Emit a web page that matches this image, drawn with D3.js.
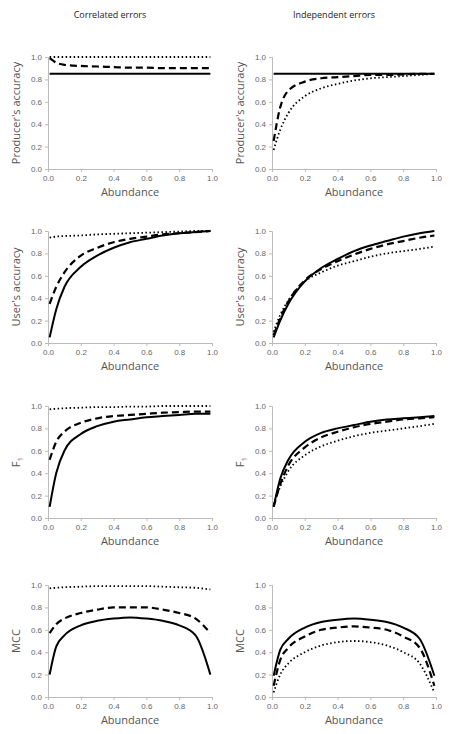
<!DOCTYPE html>
<html><head><meta charset="utf-8">
<script src="https://cdn.jsdelivr.net/npm/d3@7"></script>
<style>body{margin:0;background:#fff}</style>
</head><body>
<script>
// abundance sample points shared by every curve
var xs = [0.01, 0.05, 0.1, 0.2, 0.3, 0.4, 0.5, 0.6, 0.7, 0.8, 0.9, 0.99];
var ticks = [0, 0.2, 0.4, 0.6, 0.8, 1.0];
var colTitles = ["Correlated errors", "Independent errors"];
var rowLabels = ["Producer's accuracy", "User's accuracy", "F1", "MCC"];

// [solid, dashed, dotted] for each panel
var paCorr = [
  [0.85, 0.85, 0.85, 0.85, 0.85, 0.85, 0.85, 0.85, 0.85, 0.85, 0.85, 0.85],
  [0.99, 0.95, 0.93, 0.92, 0.915, 0.91, 0.905, 0.905, 0.9, 0.9, 0.9, 0.9],
  [1.0, 1.0, 1.0, 1.0, 1.0, 1.0, 1.0, 1.0, 1.0, 1.0, 1.0, 1.0]];
var paInd = [
  [0.85, 0.85, 0.85, 0.85, 0.85, 0.85, 0.85, 0.85, 0.85, 0.85, 0.85, 0.85],
  [0.25, 0.55, 0.7, 0.78, 0.81, 0.82, 0.83, 0.84, 0.84, 0.845, 0.85, 0.85],
  [0.17, 0.35, 0.5, 0.65, 0.72, 0.76, 0.79, 0.81, 0.82, 0.83, 0.84, 0.85]];
var uaCorr = [
  [0.05, 0.3, 0.5, 0.68, 0.78, 0.85, 0.9, 0.93, 0.96, 0.98, 0.99, 1.0],
  [0.35, 0.5, 0.63, 0.78, 0.85, 0.9, 0.93, 0.95, 0.97, 0.98, 0.99, 1.0],
  [0.94, 0.95, 0.955, 0.96, 0.97, 0.975, 0.98, 0.985, 0.99, 0.995, 1.0, 1.0]];
var uaInd = [
  [0.05, 0.2, 0.35, 0.55, 0.67, 0.75, 0.82, 0.87, 0.91, 0.95, 0.98, 1.0],
  [0.07, 0.22, 0.37, 0.56, 0.66, 0.73, 0.79, 0.84, 0.88, 0.91, 0.94, 0.96],
  [0.1, 0.25, 0.38, 0.55, 0.63, 0.69, 0.73, 0.77, 0.8, 0.82, 0.84, 0.86]];
var f1Corr = [
  [0.1, 0.4, 0.6, 0.75, 0.82, 0.86, 0.88, 0.9, 0.91, 0.92, 0.93, 0.93],
  [0.52, 0.68, 0.77, 0.85, 0.89, 0.91, 0.92, 0.93, 0.94, 0.945, 0.95, 0.95],
  [0.97, 0.975, 0.98, 0.985, 0.99, 0.99, 0.995, 0.995, 1.0, 1.0, 1.0, 1.0]];
var f1Ind = [
  [0.1, 0.35, 0.52, 0.68, 0.76, 0.8, 0.83, 0.86, 0.88, 0.89, 0.9, 0.91],
  [0.1, 0.3, 0.47, 0.63, 0.72, 0.77, 0.81, 0.84, 0.86, 0.88, 0.89, 0.9],
  [0.12, 0.28, 0.42, 0.56, 0.64, 0.69, 0.73, 0.76, 0.78, 0.8, 0.82, 0.84]];
var mccCorr = [
  [0.2, 0.45, 0.55, 0.64, 0.68, 0.7, 0.71, 0.7, 0.68, 0.64, 0.55, 0.2],
  [0.57, 0.65, 0.7, 0.75, 0.78, 0.8, 0.8, 0.8, 0.78, 0.75, 0.7, 0.57],
  [0.97, 0.975, 0.98, 0.985, 0.99, 0.99, 0.99, 0.99, 0.985, 0.98, 0.975, 0.96]];
var mccInd = [
  [0.19, 0.42, 0.52, 0.62, 0.67, 0.69, 0.7, 0.69, 0.67, 0.62, 0.52, 0.19],
  [0.1, 0.33, 0.44, 0.54, 0.6, 0.62, 0.63, 0.62, 0.6, 0.54, 0.44, 0.1],
  [0.04, 0.2, 0.3, 0.4, 0.46, 0.49, 0.5, 0.49, 0.46, 0.4, 0.3, 0.04]];

var panels = [[paCorr, paInd], [uaCorr, uaInd], [f1Corr, f1Ind], [mccCorr, mccInd]];

var W = 474, H = 734;
var svg = d3.select("body").append("svg").attr("width", W).attr("height", H)
  .style("font-family", "'Open Sans', sans-serif");

var colX = [48, 272], pw = 164, ph = 112;
var rowY = [57, 231, 406, 585];
var styles = [
  {w: 2, dash: null},
  {w: 2.2, dash: "7,4"},
  {w: 1.8, dash: "1.5,2.5"}];

colTitles.forEach(function(t, c) {
  svg.append("text").attr("x", colX[c] + pw / 2 - 20).attr("y", 18)
    .attr("text-anchor", "middle").attr("font-size", 9).attr("fill", "#222").text(t);
});

panels.forEach(function(row, r) {
  row.forEach(function(series, c) {
    var g = svg.append("g").attr("transform", "translate(" + colX[c] + "," + rowY[r] + ")");
    var x = d3.scaleLinear().domain([0, 1]).range([0, pw]);
    var y = d3.scaleLinear().domain([0, 1]).range([ph, 0]);
    var ax = g.append("g").attr("transform", "translate(0," + ph + ")")
      .call(d3.axisBottom(x).tickValues(ticks).tickSize(3).tickFormat(d3.format(".1f")));
    var ay = g.append("g")
      .call(d3.axisLeft(y).tickValues(ticks).tickSize(3).tickFormat(d3.format(".1f")));
    [ax, ay].forEach(function(a) {
      a.selectAll("path,line").attr("stroke", "#bbb");
      a.selectAll("text").attr("fill", "#666").attr("font-size", 8);
    });
    g.append("text").attr("x", pw / 2).attr("y", ph + 27).attr("text-anchor", "middle")
      .attr("font-size", 11).attr("fill", "#555").text("Abundance");
    var lab = g.append("text").attr("transform", "translate(-28," + ph / 2 + ") rotate(-90)")
      .attr("text-anchor", "middle").attr("font-size", 11).attr("fill", "#555");
    if (r === 2) {
      lab.append("tspan").text("F");
      lab.append("tspan").attr("font-size", 8).attr("dy", 3).text("1");
    } else lab.text(rowLabels[r]);

    var line = d3.line().curve(d3.curveMonotoneX)
      .x(function(d, i) { return x(xs[i]); })
      .y(function(d) { return y(d); });
    series.forEach(function(s, k) {
      g.append("path").datum(s).attr("d", line).attr("fill", "none")
        .attr("stroke", "#000").attr("stroke-width", styles[k].w)
        .attr("stroke-dasharray", styles[k].dash);
    });
  });
});
</script>
</body></html>
